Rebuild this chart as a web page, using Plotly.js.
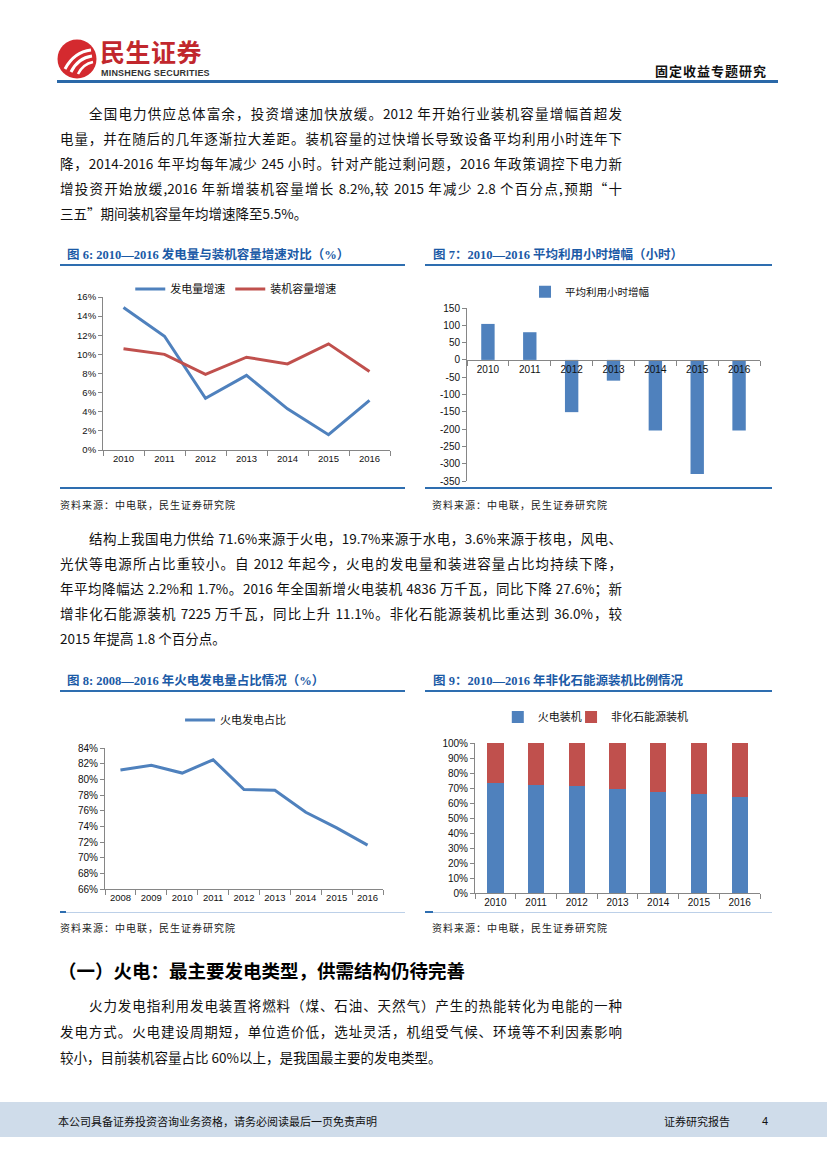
<!DOCTYPE html>
<html><head><meta charset="utf-8">
<script src="https://cdn.plot.ly/plotly-3.0.1.min.js"></script>
<style>
body{margin:0;width:827px;height:1169px;position:relative;background:#fff;font-family:"Noto Sans CJK SC",sans-serif;overflow:hidden;color:#111}
.abs{position:absolute}
.para{position:absolute;left:60px;width:562px;font-size:13.5px;color:#111}
.ln{height:25px;line-height:25px;text-align:justify;text-align-last:justify;white-space:nowrap;overflow:visible}
.ln.last{text-align-last:left}
.ind{padding-left:29px}
.ctitle{position:absolute;font-family:"Liberation Serif","Noto Sans CJK SC",serif;font-weight:bold;font-size:12.5px;color:#1B5AA6;white-space:nowrap;line-height:16px}
.hline{position:absolute;height:2px;background:#2E6EB0}
.fline{position:absolute;height:1px;background:#bcd0e8}
.src{position:absolute;font-size:10px;color:#222;white-space:nowrap;letter-spacing:1px}
.chart{position:absolute}
</style>
</head><body>

<!-- header -->
<svg class="abs" style="left:56px;top:38px" width="42" height="42" viewBox="0 0 42 42">
  <circle cx="21" cy="21" r="19.5" fill="#D42A2F"/>
  <path d="M9 31 Q18 14 35 12" stroke="#fff" stroke-width="3" fill="none"/>
  <path d="M15 34 Q22 20 36 18" stroke="#fff" stroke-width="3" fill="none"/>
  <path d="M22 36 Q27 26 37 24" stroke="#fff" stroke-width="2.5" fill="none"/>
</svg>
<div class="abs" style="left:100px;top:39px;font-size:25px;font-weight:bold;color:#C1272D;line-height:25px;letter-spacing:0.5px">民生证券</div>
<div class="abs" style="left:101px;top:68px;font-family:'Liberation Sans Narrow','Liberation Sans',sans-serif;font-size:9px;font-weight:bold;color:#333;line-height:10px;letter-spacing:0.2px">MINSHENG SECURITIES</div>
<div class="abs" style="left:655px;top:62px;font-size:13px;font-weight:bold;color:#111;letter-spacing:1px;line-height:17px">固定收益专题研究</div>
<div class="abs" style="left:57px;top:80px;width:721px;height:3px;background:#2A68A8"></div>

<!-- paragraph 1 -->
<div class="para" style="top:101px">
  <div class="ln ind">全国电力供应总体富余，投资增速加快放缓。2012 年开始行业装机容量增幅首超发</div>
  <div class="ln">电量，并在随后的几年逐渐拉大差距。装机容量的过快增长导致设备平均利用小时连年下</div>
  <div class="ln">降，2014-2016 年平均每年减少 245 小时。针对产能过剩问题，2016 年政策调控下电力新</div>
  <div class="ln">增投资开始放缓,2016 年新增装机容量增长 8.2%,较 2015 年减少 2.8 个百分点,预期“十</div>
  <div class="ln last">三五”期间装机容量年均增速降至5.5%。</div>
</div>

<!-- chart titles row 1 -->
<div class="ctitle" style="left:67px;top:247px">图 6: 2010—2016 发电量与装机容量增速对比（%）</div>
<div class="hline" style="left:60px;top:264px;width:345px"></div>
<div class="ctitle" style="left:433px;top:247px">图 7：2010—2016 平均利用小时增幅（小时）</div>
<div class="hline" style="left:425px;top:264px;width:347px"></div>

<div id="c6" class="chart" style="left:60px;top:270px;width:345px;height:210px"></div>
<div id="c7" class="chart" style="left:425px;top:270px;width:347px;height:218px"></div>

<div class="hline" style="left:60px;top:487px;width:345px"></div>
<div class="hline" style="left:425px;top:487px;width:347px"></div>
<div class="src" style="left:60px;top:497px">资料来源：中电联，民生证券研究院</div>
<div class="src" style="left:432px;top:497px">资料来源：中电联，民生证券研究院</div>

<!-- paragraph 2 -->
<div class="para" style="top:526px">
  <div class="ln ind">结构上我国电力供给 71.6%来源于火电，19.7%来源于水电，3.6%来源于核电，风电、</div>
  <div class="ln">光伏等电源所占比重较小。自 2012 年起今，火电的发电量和装进容量占比均持续下降，</div>
  <div class="ln">年平均降幅达 2.2%和 1.7%。2016 年全国新增火电装机 4836 万千瓦，同比下降 27.6%；新</div>
  <div class="ln">增非化石能源装机 7225 万千瓦，同比上升 11.1%。非化石能源装机比重达到 36.0%，较</div>
  <div class="ln last">2015 年提高 1.8 个百分点。</div>
</div>

<!-- chart titles row 2 -->
<div class="ctitle" style="left:67px;top:673px">图 8: 2008—2016 年火电发电量占比情况（%）</div>
<div class="hline" style="left:60px;top:690px;width:345px"></div>
<div class="ctitle" style="left:433px;top:673px">图 9：2010—2016 年非化石能源装机比例情况</div>
<div class="hline" style="left:425px;top:690px;width:347px"></div>

<div id="c8" class="chart" style="left:60px;top:705px;width:345px;height:206px"></div>
<div id="c9" class="chart" style="left:425px;top:700px;width:347px;height:210px"></div>

<div class="fline" style="left:60px;top:912px;width:345px"></div>
<div class="abs" style="left:60px;top:911px;width:6px;height:2px;background:#2E6EB0"></div>
<div class="fline" style="left:425px;top:912px;width:347px"></div>
<div class="abs" style="left:425px;top:911px;width:8px;height:2px;background:#2E6EB0"></div>
<div class="src" style="left:60px;top:920px">资料来源：中电联，民生证券研究院</div>
<div class="src" style="left:432px;top:920px">资料来源：中电联，民生证券研究院</div>

<!-- section heading -->
<div class="abs" style="left:58px;top:957px;font-size:18.5px;font-weight:bold;color:#000;line-height:26px;white-space:nowrap">（一）火电：最主要发电类型，供需结构仍待完善</div>

<!-- paragraph 3 -->
<div class="para" style="top:992px">
  <div class="ln ind" style="height:26px;line-height:26px">火力发电指利用发电装置将燃料（煤、石油、天然气）产生的热能转化为电能的一种</div>
  <div class="ln" style="height:26px;line-height:26px">发电方式。火电建设周期短，单位造价低，选址灵活，机组受气候、环境等不利因素影响</div>
  <div class="ln last" style="height:26px;line-height:26px">较小，目前装机容量占比 60%以上，是我国最主要的发电类型。</div>
</div>

<!-- footer -->
<div class="abs" style="left:0;top:1102px;width:827px;height:35px;background:#CFDCEA"></div>
<div class="abs" style="left:58px;top:1112px;font-size:11px;color:#111;line-height:18px;white-space:nowrap">本公司具备证券投资咨询业务资格，请务必阅读最后一页免责声明</div>
<div class="abs" style="left:664px;top:1112px;font-size:11px;color:#111;line-height:18px">证券研究报告</div>
<div class="abs" style="left:762px;top:1112px;font-size:11px;color:#111;line-height:18px;font-family:'Liberation Sans',sans-serif">4</div>

<script>
// ===== data =====
const years6 = ['2010','2011','2012','2013','2014','2015','2016'];
const genGrowth = [14.9, 11.9, 5.4, 7.8, 4.3, 1.6, 5.2];
const capGrowth = [10.6, 10.0, 7.9, 9.7, 9.0, 11.1, 8.2];

const years7 = ['2010','2011','2012','2013','2014','2015','2016'];
const hoursChange = [104, 80, -151, -60, -204, -330, -204];
const ticks7 = [150, 100, 50, 0, -50, -100, -150, -200, -250, -300, -350];
const tickText7 = ['150','100','50','0','-50','-100','-150','-200','-250','-300','-350'];

const years8 = ['2008','2009','2010','2011','2012','2013','2014','2015','2016'];
const thermalShare = [81.2, 81.8, 80.8, 82.5, 78.7, 78.6, 75.8, 73.8, 71.6];

const years9 = ['2010','2011','2012','2013','2014','2015','2016'];
const thermalCap = [73.2, 72.1, 71.4, 69.2, 67.4, 65.8, 64.0];
const nonFossilCap = [26.8, 27.9, 28.6, 30.8, 32.6, 34.2, 36.0];

// ===== style =====
const BLUE = '#4F81BD', RED = '#C0504D', AX = '#868686';
const FONT = '"Liberation Sans", "Noto Sans CJK SC", sans-serif';
const cfg = {displayModeBar:false, staticPlot:true};

function xAx(extra){
  return Object.assign({type:'category', showline:true, linecolor:AX, linewidth:1,
    ticks:'outside', tickson:'boundaries', ticklen:5, tickcolor:AX, tickwidth:1, tickangle:0,
    showgrid:false, zeroline:false, tickfont:{size:10, color:'#111'}, fixedrange:true, automargin:false}, extra||{});
}
function yAx(extra){
  return Object.assign({showline:true, linecolor:AX, linewidth:1, ticks:'outside',
    ticklen:4, tickcolor:AX, tickwidth:1, showgrid:false, zeroline:false,
    tickfont:{size:10, color:'#111'}, fixedrange:true, automargin:false}, extra||{});
}
function base(w,h,m){
  m.autoexpand = false;
  return {width:w, height:h, margin:m, paper_bgcolor:'rgba(0,0,0,0)', plot_bgcolor:'rgba(0,0,0,0)',
    font:{family:FONT, color:'#111'}, showlegend:true};
}
function leg(x, y, size){
  return {orientation:'h', x:x, xanchor:'left', xref:'paper', y:y, yanchor:'middle', yref:'container',
    traceorder:'normal', font:{size:size}, bgcolor:'rgba(0,0,0,0)'};
}

// ===== chart 6 =====
Plotly.newPlot('c6', [
  {type:'scatter', mode:'lines', name:'发电量增速', x:years6, y:genGrowth, line:{color:BLUE, width:3}},
  {type:'scatter', mode:'lines', name:'装机容量增速', x:years6, y:capGrowth, line:{color:RED, width:3}}
], Object.assign(base(345,210,{l:43,r:15,t:27,b:30}), {
  xaxis:xAx({range:[-0.5,6.5], tickfont:{size:9.5, color:'#111'}}),
  yaxis:yAx({range:[0,16], dtick:2, ticksuffix:'%', tickfont:{size:9.5, color:'#111'}}),
  legend:leg(0.095, 0.91, 11)
}), cfg);

// ===== chart 7 =====
Plotly.newPlot('c7', [
  {type:'bar', name:'平均利用小时增幅', x:years7, y:hoursChange, marker:{color:BLUE}}
], Object.assign(base(347,218,{l:42,r:12,t:38,b:7}), {
  bargap:0.68,
  xaxis:xAx({range:[-0.5,6.5], anchor:'free', position:0.7}),
  yaxis:yAx({range:[-350,150], tickvals:ticks7, ticktext:tickText7}),
  legend:leg(0.198, 0.9, 10.5)
}), cfg);

// ===== chart 8 =====
Plotly.newPlot('c8', [
  {type:'scatter', mode:'lines', name:'火电发电占比', x:years8, y:thermalShare, line:{color:BLUE, width:3}}
], Object.assign(base(345,206,{l:45,r:22,t:43,b:22}), {
  xaxis:xAx({range:[-0.5,8.5], tickfont:{size:9.5, color:'#111'}}),
  yaxis:yAx({range:[66,84], dtick:2, ticksuffix:'%'}),
  legend:leg(0.27, 0.927, 11)
}), cfg);

// ===== chart 9 =====
Plotly.newPlot('c9', [
  {type:'bar', name:'火电装机', x:years9, y:thermalCap, marker:{color:BLUE}, legend:'legend'},
  {type:'bar', name:'非化石能源装机', x:years9, y:nonFossilCap, marker:{color:RED}, legend:'legend2'}
], Object.assign(base(347,210,{l:50,r:12,t:43,b:17}), {
  barmode:'stack', bargap:0.6,
  xaxis:xAx({range:[-0.5,6.5]}),
  yaxis:yAx({range:[0,100], dtick:10, ticksuffix:'%'}),
  legend:leg(0.08, 0.919, 11),
  legend2:leg(0.337, 0.919, 11)
}), cfg);
</script>
</body></html>
